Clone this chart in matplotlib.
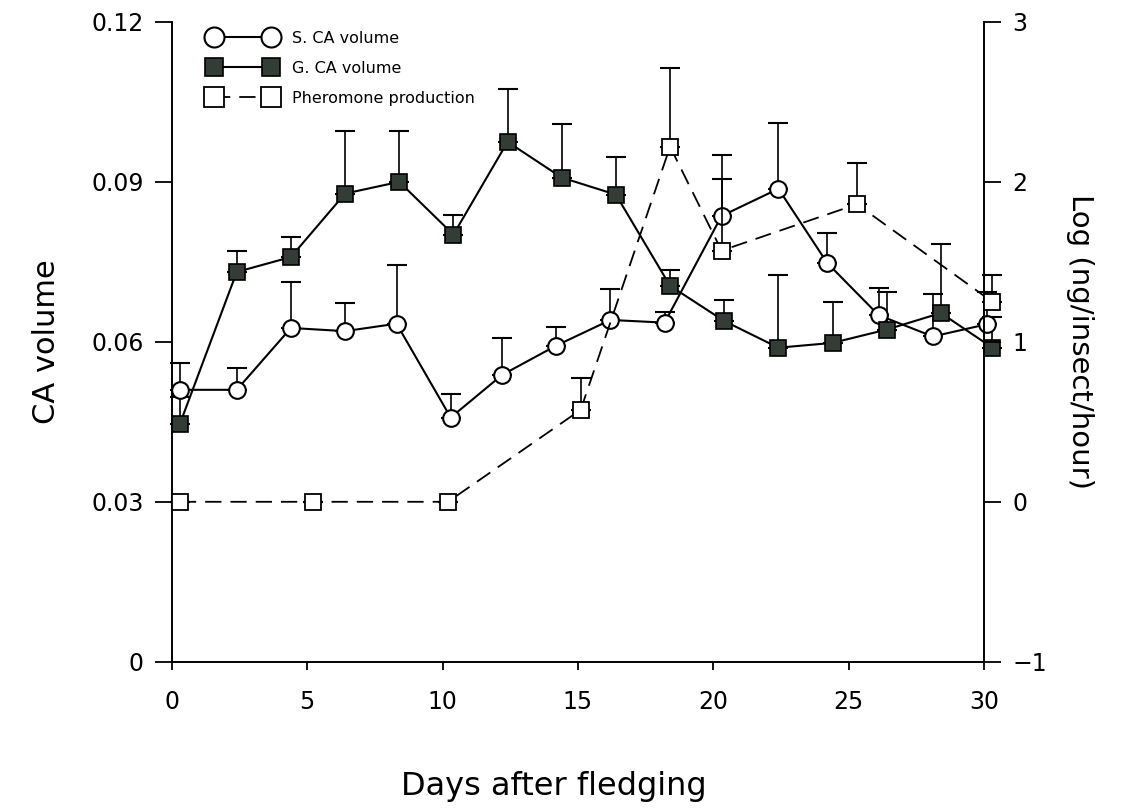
import numpy as np
import matplotlib
matplotlib.use("Agg")
import matplotlib.pyplot as plt

# Wartosci
s_days = [0.3, 2.4, 4.4, 6.4, 8.3, 10.3, 12.2, 14.2, 16.2, 18.2, 20.3, 22.4, 24.2, 26.1, 28.1, 30.1]
s_ca = [0.051, 0.051, 0.0626, 0.062, 0.0634, 0.0458, 0.0538, 0.0593, 0.0641, 0.0636,
        0.0836, 0.0887, 0.0748, 0.065, 0.061, 0.0633]
s_err = [0.005, 0.004, 0.0086, 0.0053, 0.011, 0.0045, 0.007, 0.0034, 0.0058, 0.002,
         0.0114, 0.0124, 0.0056, 0.005, 0.008, 0.006]

g_days = [0.3, 2.4, 4.4, 6.4, 8.4, 10.4, 12.4, 14.4, 16.4, 18.4, 20.4, 22.4, 24.4, 26.4, 28.4, 30.3]
g_ca = [0.0446, 0.0731, 0.0759, 0.0878, 0.09, 0.0801, 0.0975, 0.0908, 0.0876, 0.0705,
        0.0639, 0.0589, 0.0598, 0.0623, 0.0654, 0.0589]
g_err = [0.005, 0.004, 0.0037, 0.0118, 0.0096, 0.0037, 0.01, 0.01, 0.007, 0.003,
         0.004, 0.0137, 0.0077, 0.007, 0.013, 0.0058]

p_days = [0.3, 5.2, 10.2, 15.1, 18.4, 20.3, 25.3, 30.3]
p_log = [0.0, 0.0, 0.0, 0.575, 2.22, 1.57, 1.86, 1.25]
p_err = [0.0, 0.0, 0.0, 0.2, 0.49, 0.45, 0.26, 0.17]

fig = plt.figure(figsize=(11.3, 8.1), dpi=100)
ax = fig.add_axes([0.152, 0.183, 0.719, 0.79])
ax2 = ax.twinx()

dark = "#333d36"

# Slupki bledow (tylko w gore)
ax.errorbar(s_days, s_ca, yerr=[np.zeros(len(s_err)), s_err], fmt="none",
            ecolor="black", elinewidth=1.2, capsize=7, capthick=1.5, zorder=2, clip_on=False)
ax.errorbar(g_days, g_ca, yerr=[np.zeros(len(g_err)), g_err], fmt="none",
            ecolor="black", elinewidth=1.2, capsize=7, capthick=1.5, zorder=2, clip_on=False)
ax2.errorbar(p_days, p_log, yerr=[np.zeros(len(p_err)), p_err], fmt="none",
             ecolor="black", elinewidth=1.2, capsize=7, capthick=1.5, zorder=2, clip_on=False)

l1, = ax.plot(s_days, s_ca, "-o", color="black", lw=1.5, ms=12, clip_on=False,
              mfc="white", mec="black", mew=1.5, zorder=3, label="S. CA volume")
l2, = ax.plot(g_days, g_ca, "-s", color="black", lw=1.5, ms=11, clip_on=False,
              mfc=dark, mec="black", mew=1.2, zorder=4, label="G. CA volume")
l3, = ax2.plot(p_days, p_log, "--s", color="black", lw=1.3, ms=12, dashes=(9, 5), clip_on=False,
               mfc="white", mec="black", mew=1.3, zorder=3, label="Pheromone production")

ax.set_xlim(0, 30)
ax.set_ylim(0, 0.12)
ax2.set_ylim(-1, 3)
ax.set_xticks([0, 5, 10, 15, 20, 25, 30])
ax.set_yticks([0, 0.03, 0.06, 0.09, 0.12])
ax.set_yticklabels(["0", "0.03", "0.06", "0.09", "0.12"])
ax2.set_yticks([-1, 0, 1, 2, 3])
ax2.set_yticklabels(["\u22121", "0", "1", "2", "3"])

for a in (ax, ax2):
    a.spines["top"].set_visible(False)
    for s in a.spines.values():
        s.set_linewidth(1.4)
    a.tick_params(direction="out", length=12, width=1.3, labelsize=17, pad=8)
ax.spines["right"].set_visible(False)
ax2.spines["left"].set_visible(False)
ax2.spines["bottom"].set_visible(False)
ax.tick_params(axis="x", length=6, pad=14)

ax.set_xlabel("Days after fledging", fontsize=23, labelpad=36)
ax.xaxis.set_label_coords(0.47, -0.17)
ax.set_ylabel("CA volume", fontsize=22, labelpad=22)
ax2.set_ylabel("Log (ng/insect/hour)", fontsize=21, rotation=-90, labelpad=34)

ax.legend(handles=[l1, l2, l3], loc="upper left", bbox_to_anchor=(0.175, 0.976),
          bbox_transform=fig.transFigure, frameon=False, numpoints=2, fontsize=11.5,
          handlelength=4.2, labelspacing=0.95, handletextpad=1.0, markerscale=1.2,
          borderpad=0.2)

plt.savefig("out.png", dpi=100)
